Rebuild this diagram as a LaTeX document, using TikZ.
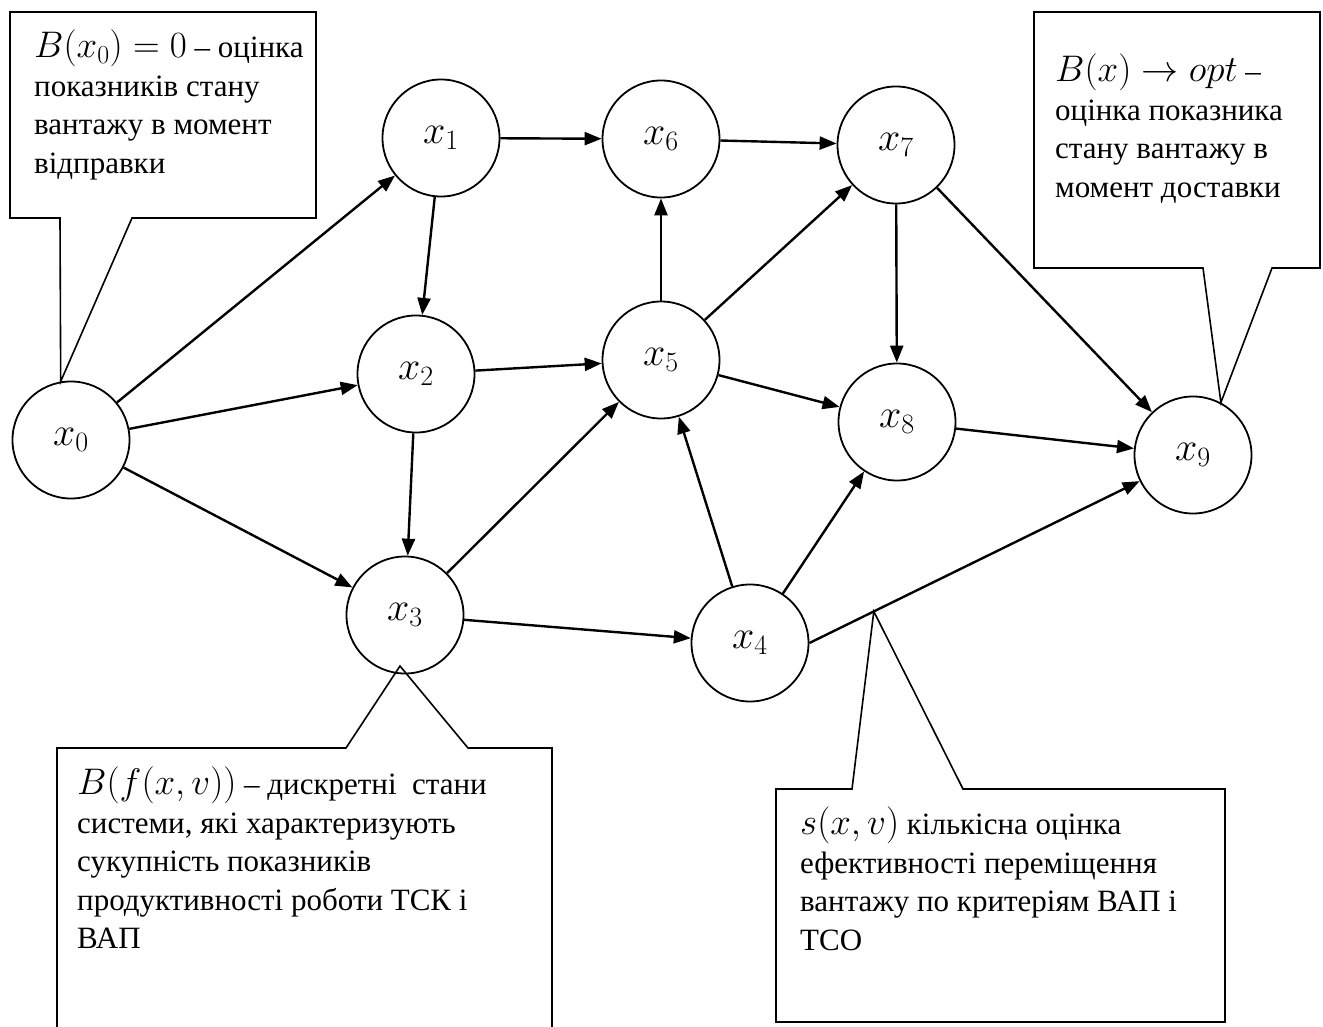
\RequirePackage{fix-cm}
\documentclass[tikz,border=0pt]{standalone}
\usepackage{fontspec}
\setmainfont{Liberation Serif}
\usetikzlibrary{arrows.meta}
\newcommand{\notemath}[1]{{\fontsize{37}{38.5}\selectfont$#1$}}
\begin{document}
\begin{tikzpicture}[x=1pt,y=-1pt,
  state/.style={circle,draw,line width=1.8pt,minimum size=117pt,inner sep=0pt,font=\fontsize{40}{44}\selectfont},
  edge/.style={line width=2.4pt,-{Triangle[length=17pt,width=13pt]}},
  callout/.style={line width=1.6pt,line join=miter},
  note/.style={anchor=north west,align=left,inner sep=0pt,font=\fontsize{31}{38.5}\selectfont}]
\useasboundingbox[fill=white] (0,0) rectangle (1323,1027);

% states
\node[state] (x0) at (71,440) {$x_0$};
\node[state] (x1) at (441,138) {$x_1$};
\node[state] (x6) at (661,139) {$x_6$};
\node[state] (x7) at (896,145) {$x_7$};
\node[state] (x2) at (416,374) {$x_2$};
\node[state] (x5) at (661,360) {$x_5$};
\node[state] (x8) at (897,422) {$x_8$};
\node[state] (x9) at (1193,455) {$x_9$};
\node[state] (x3) at (405,615) {$x_3$};
\node[state] (x4) at (750,643) {$x_4$};

% transitions
\draw[edge] (x0) -- (x1);
\draw[edge] (x0) -- (x2);
\draw[edge] (x0) -- (x3);
\draw[edge] (x1) -- (x6);
\draw[edge] (x1) -- (x2);
\draw[edge] (x2) -- (x5);
\draw[edge] (x2) -- (x3);
\draw[edge] (x3) -- (x5);
\draw[edge] (x3) -- (x4);
\draw[edge] (x4) -- (x5);
\draw[edge] (x4) -- (x8);
\draw[edge] (x4.east) -- coordinate[pos=0.195] (tipD) (x9);
\draw[edge] (x5) -- (x6);
\draw[edge] (x5) -- (x7);
\draw[edge] (x5) -- (x8);
\draw[edge] (x6) -- (x7);
\draw[edge] (x7) -- (x8);
\draw[edge] (x7) -- (x9);
\draw[edge] (x8) -- (x9);

% callouts
\coordinate (tipA) at (x0.100);
\coordinate (tipB) at (x9.62);
\coordinate (tipC) at (400,666);

\draw[callout] (60,218) -- (10,218) -- (10,12) -- (316,12) -- (316,218) -- (132,218) -- (tipA) -- cycle;
\draw[callout] (1203,268) -- (1034,268) -- (1034,12) -- (1320,12) -- (1320,268) -- (1272,268) -- (tipB) -- cycle;
\draw[callout] (57,1030) -- (57,748) -- (346,748) -- (tipC) -- (468,748) -- (552,748) -- (552,1030);
\draw[callout] (852,789) -- (776,789) -- (776,1022) -- (1225,1022) -- (1225,789) -- (963,789) -- (tipD) -- cycle;

\node[note] (nA) at (34,30) {\notemath{B(x_0)=0} – оцінка\\показників стану\\вантажу в момент\\відправки};
\node[note] (nB) at (1055,54) {\notemath{B(x)\rightarrow opt} –\\оцінка показника\\стану вантажу в\\момент доставки};
\node[note] (nC) at (77,767) {\notemath{B(f(x,v))} – дискретні\ \ стани\\системи, які характеризують\\сукупність показників\\продуктивності роботи ТСК і\\ВАП};
\node[note] (nD) at (800,807) {\notemath{s(x,v)} кількісна оцінка\\ефективності переміщення\\вантажу по критеріям ВАП і\\ТСО};
\end{tikzpicture}
\end{document}
